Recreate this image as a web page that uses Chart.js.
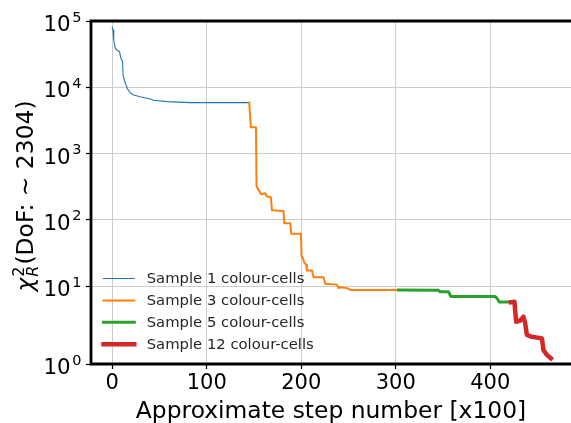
<!DOCTYPE html>
<html><head><meta charset="utf-8">
<script src="https://cdn.jsdelivr.net/npm/chart.js@4.4.1/dist/chart.umd.min.js"></script>
<style>html,body{margin:0;padding:0;background:#fff;overflow:hidden}</style>
</head><body>
<canvas id="c" width="571" height="423"></canvas>
<script>
// ---- data ----
const steps1 = [0, 0.8, 1.6, 3.2, 5.0, 7.7, 9.2, 10.9, 11.4, 13.8, 16.2, 19.0, 22.5, 29.6, 40.2, 43.7, 57.9, 82.5, 145.0];
const chi1   = [80000, 73000, 51700, 38700, 36500, 34400, 27400, 24300, 15300, 11500, 9420, 8280, 7650, 7210, 6660, 6370, 6070, 5860, 5860];

const steps3 = [145.0, 146.6, 152.1, 152.7, 153.8, 155.9, 157.4, 161.9, 163.7, 167.9, 169.0, 181.3, 182.0, 188.4, 189.4, 199.7, 200.3, 201.8, 203.2, 205.3, 206.0, 211.3, 213.0, 223.6, 225.4, 237.8, 239.5, 241.3, 248.4, 252.6, 303.0];
const chi3   = [5860, 2490, 2490, 317, 300, 266, 243, 252, 224, 219, 139, 136, 88.9, 88.9, 61.3, 61.3, 28.5, 26.4, 22.6, 20.9, 17.1, 17.1, 13.6, 13.6, 10.8, 10.5, 9.3, 9.6, 9.3, 8.7, 8.7];

const steps5 = [303.0, 345.3, 347.1, 355.9, 358.4, 405.3, 407.1, 409.5, 421.9];
const chi5   = [8.7, 8.6, 8.18, 8.18, 6.94, 6.94, 6.57, 5.72, 5.72];

const steps12 = [421.9, 425.7, 426.5, 427.5, 431.7, 435.2, 437.0, 438.8, 444.1, 454.7, 456.4, 460.0, 464.2];
const chi12   = [5.68, 5.77, 4.10, 2.89, 3.02, 3.44, 2.74, 1.92, 1.86, 1.81, 1.44, 1.29, 1.18];

const seriesLabels = ['Sample 1 colour-cells', 'Sample 3 colour-cells', 'Sample 5 colour-cells', 'Sample 12 colour-cells'];
const xTickValues = [0, 100, 200, 300, 400];
const yTickValues = [1, 10, 100, 1000, 10000, 100000];
const xTitle = 'Approximate step number [x100]';
const yTitleRest = '(DoF: \u223C 2304)';

// ---- styling ----
const FONT = '"DejaVu Sans", sans-serif';
const colors = ['#1f77b4', '#ff7f0e', '#2ca02c', '#d62728'];
const widths = [1.1, 2, 3, 4.5];

// symmetric-log value axis (log above a threshold, linear below it)
class SymLogScale extends Chart.LinearScale {
  _c() { return this.options.linscale / (1 - 1 / 10); }
  _tf(v) {
    const L = this.options.linthresh, c = this._c(), a = Math.abs(v);
    const t = a <= L ? a * c : L * (c + Math.log10(a / L));
    return v < 0 ? -t : t;
  }
  _itf(t) {
    const L = this.options.linthresh, c = this._c(), a = Math.abs(t);
    const v = a <= L * c ? a / c : L * Math.pow(10, a / L - c);
    return t < 0 ? -v : v;
  }
  determineDataLimits() { this.min = this.options.min; this.max = this.options.max; }
  buildTicks() { return []; }
  configure() { super.configure(); this._t0 = this._tf(this.min); this._t1 = this._tf(this.max); }
  getPixelForValue(v) { return this.getPixelForDecimal((this._tf(v) - this._t0) / (this._t1 - this._t0)); }
  getValueForPixel(p) { return this._itf(this._t0 + this.getDecimalForPixel(p) * (this._t1 - this._t0)); }
}
SymLogScale.id = 'symlog';
SymLogScale.defaults = {};
Chart.register(SymLogScale);

function pts(xs, ys) { return xs.map((x, i) => ({x: x, y: ys[i]})); }
const allSeries = [[steps1, chi1], [steps3, chi3], [steps5, chi5], [steps12, chi12]];

const datasets = allSeries.map((s, i) => ({
  label: seriesLabels[i],
  data: pts(s[0], s[1]),
  borderColor: colors[i],
  backgroundColor: colors[i],
  borderWidth: widths[i],
  pointRadius: 0,
  tension: 0,
  fill: false,
  borderJoinStyle: 'round',
  borderCapStyle: 'square',
  order: 3 - i
}));

const gridStyle = {color: '#cccccc', lineWidth: 1, tickColor: '#000', tickLength: 5, tickWidth: 1.2, drawTicks: true};

const decor = {
  id: 'decor',
  afterDatasetsDraw(chart) {
    const a = chart.chartArea, ctx = chart.ctx;
    ctx.save();
    ctx.strokeStyle = '#000';
    ctx.lineWidth = 2.8;
    ctx.lineCap = 'square';
    ctx.beginPath();
    ctx.moveTo(a.left, a.bottom);
    ctx.lineTo(a.left, a.top);
    ctx.lineTo(a.right + 1.7, a.top);
    ctx.lineTo(a.right + 1.7, a.bottom);
    ctx.closePath();
    ctx.stroke();
    ctx.restore();
  },
  afterDraw(chart) {
    const ctx = chart.ctx, a = chart.chartArea, ys = chart.scales.y;
    ctx.save();
    ctx.fillStyle = '#000';
    // y tick labels 10^n
    yTickValues.forEach(v => {
      const py = ys.getPixelForValue(v);
      const e = String(Math.round(Math.log10(v)));
      ctx.font = '14.5px ' + FONT;
      const w2 = ctx.measureText(e).width;
      ctx.font = '21.4px ' + FONT;
      const w1 = ctx.measureText('10').width;
      const xs = 81.5 - w2;
      ctx.textAlign = 'left';
      ctx.textBaseline = 'alphabetic';
      ctx.fillText('10', xs - 1.6 - w1, py + 10);
      ctx.font = '14.5px ' + FONT;
      ctx.fillText(e, xs, py + 0.5);
    });
    // x title
    ctx.font = '23.4px ' + FONT;
    ctx.textAlign = 'center';
    ctx.textBaseline = 'alphabetic';
    ctx.fillText(xTitle, (a.left + a.right) / 2, 418);
    // y title
    ctx.save();
    ctx.translate(33, 196);
    ctx.rotate(-Math.PI / 2);
    ctx.textAlign = 'left';
    ctx.textBaseline = 'alphabetic';
    const big = '23.4px ' + FONT, bigI = 'italic 23.4px ' + FONT, small = '16px ' + FONT, smallI = 'italic 16px ' + FONT;
    ctx.font = bigI; const wChi = ctx.measureText('\u03C7').width;
    ctx.font = small; const wSup = ctx.measureText('2').width;
    ctx.font = smallI; const wSub = ctx.measureText('R').width;
    ctx.font = big; const wRest = ctx.measureText(yTitleRest).width;
    const total = wChi + 1 + Math.max(wSup, wSub) + 1 + wRest;
    let x = -total / 2;
    ctx.font = bigI; ctx.fillText('\u03C7', x, 0); x += wChi + 1;
    ctx.font = small; ctx.fillText('2', x, -9.5);
    ctx.font = smallI; ctx.fillText('R', x, 5);
    x += Math.max(wSup, wSub) + 1;
    ctx.font = big; ctx.fillText(yTitleRest, x, 0);
    ctx.restore();
    // legend (no frame)
    chart.data.datasets.forEach((d, i) => {
      const yy = 278.5 + i * 21.9;
      ctx.strokeStyle = d.borderColor;
      ctx.lineWidth = d.borderWidth;
      ctx.lineCap = 'square';
      ctx.beginPath();
      ctx.moveTo(103.5, yy);
      ctx.lineTo(134.3, yy);
      ctx.stroke();
      ctx.fillStyle = '#262626';
      ctx.font = '14.8px ' + FONT;
      ctx.textAlign = 'left';
      ctx.textBaseline = 'middle';
      ctx.fillText(d.label, 146.7, yy + 1);
    });
    ctx.restore();
  }
};

new Chart(document.getElementById('c'), {
  type: 'line',
  data: {datasets: datasets},
  options: {
    responsive: false,
    animation: false,
    devicePixelRatio: 1,
    layout: {padding: {top: 21, right: 0, left: 0, bottom: 0}},
    plugins: {legend: {display: false}, tooltip: {enabled: false}},
    scales: {
      x: {
        type: 'linear', position: 'bottom', min: -22.5, max: 485.5,
        afterBuildTicks: s => { s.ticks = xTickValues.map(v => ({value: v})); },
        afterFit: s => { s.height = 59; },
        grid: gridStyle,
        border: {display: false},
        ticks: {font: {family: FONT, size: 21}, color: '#000', padding: 2, maxRotation: 0, autoSkip: false}
      },
      y: {
        type: 'symlog', position: 'left', min: 1, max: 100000,
        linthresh: 2, linscale: 0.86,
        afterBuildTicks: s => { s.ticks = yTickValues.map(v => ({value: v})); },
        afterFit: s => { s.width = 91; },
        grid: gridStyle,
        border: {display: false},
        ticks: {display: false}
      }
    }
  },
  plugins: [decor]
});
</script>
</body></html>
